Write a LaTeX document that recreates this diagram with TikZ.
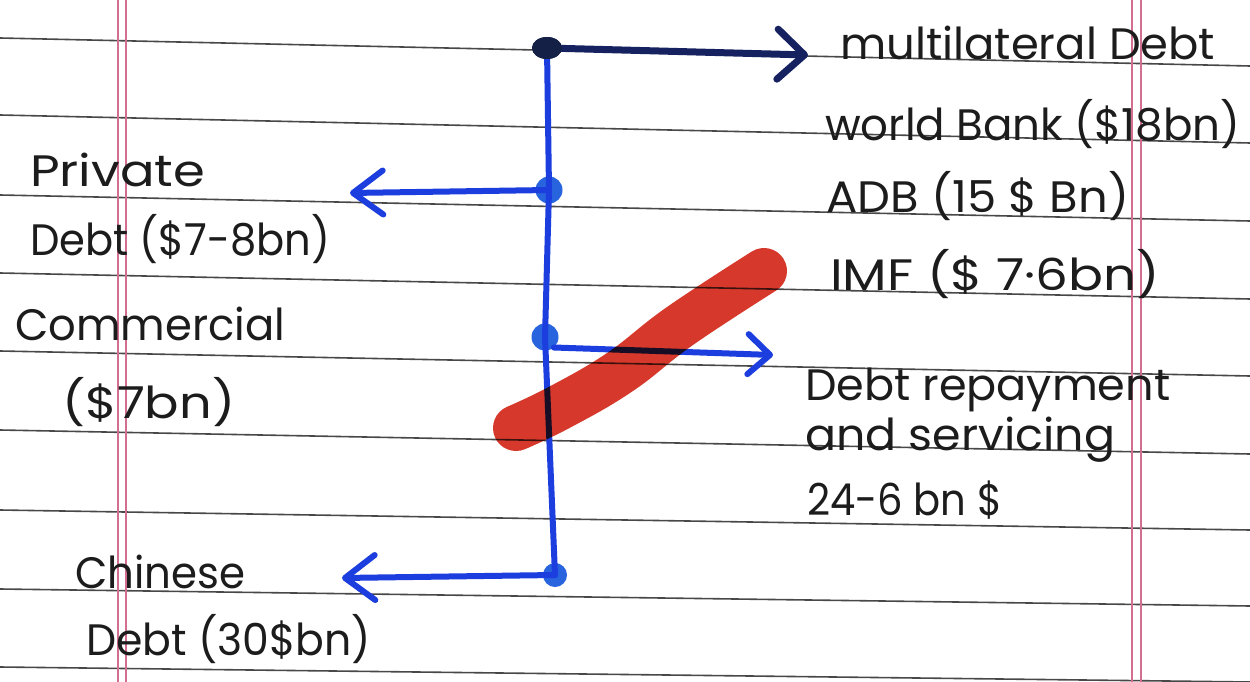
\documentclass[tikz,border=0pt]{standalone}
\usepackage{fontspec}
\setmainfont{Poppins}
\usetikzlibrary{arrows.meta,shapes.geometric}
\definecolor{ink}{RGB}{28,28,28}
\definecolor{bink}{RGB}{28,62,222}
\definecolor{blob}{RGB}{40,100,222}
\definecolor{navy}{RGB}{22,34,96}
\definecolor{dotc}{RGB}{20,32,70}
\definecolor{marker}{RGB}{214,57,43}
\definecolor{rulec}{RGB}{72,72,72}
\definecolor{marginc}{RGB}{210,110,145}
\newcommand{\hwtext}[2]{\resizebox{#1}{\height}{#2}}
\begin{document}
\begin{tikzpicture}[x=1pt,y=-1pt,
  hand/.style={anchor=base west, inner sep=0pt, text=ink, font=\fontsize{44}{48}\selectfont},
  junction/.style={circle, fill=blob, inner sep=0pt, minimum size=27pt},
  topdot/.style={ellipse, fill=dotc, inner sep=0pt, minimum width=30pt, minimum height=22pt},
  trunk/.style={draw=bink, line width=6pt, line cap=round},
  barb/.style n args={2}{-{Straight Barb[length=#1pt,width=#2pt,round]}},
  ruled/.style={draw=rulec, line width=1.6pt},
  marginline/.style={draw=marginc, line width=1.5pt}
]
\fill[white] (0,0) rectangle (1250,682);
\useasboundingbox (0,0) rectangle (1250,682);

% ruled paper
\foreach \a/\b in {38/66, 115/143, 195/221, 273/299, 351/376, 430/454, 510/530, 589/606, 667/682}
  \draw[ruled] (0,\a) -- (1250,\b);
\foreach \x in {118,126,1132,1141}
  \draw[marginline] (\x,0) -- (\x,682);

% junctions
\node[topdot] (top) at (547,48) {};
\node[junction] (pv) at (549,190) {};
\node[junction] (cm) at (545,337) {};
\node[junction, minimum size=24pt] (cn) at (555,575) {};

% free arrow ends
\coordinate (tTop) at (808,55);
\coordinate (tPv) at (350,193);
\coordinate (tCm) at (773,355);
\coordinate (tCn) at (342,578);

% connectors
\draw[trunk] (top.center) -- (pv.center) -- (cm.center) -- (cn.center);
\draw[draw=navy, line width=7pt, barb={27}{50}] (top.center) -- (tTop);
\draw[trunk, barb={30}{44}] (pv.center) -- (tPv);
\draw[trunk, barb={22}{40}] (cm.-50) -- (tCm);
\draw[trunk, barb={30}{45}] (cn.center) -- (tCn);
\node[topdot] at (top) {};

% texts
\node[hand] (ml) at (840,60) {\hwtext{375pt}{multilateral Debt}};
\node[hand] (wb) at (825,140) {\hwtext{415pt}{world Bank (\$18bn)}};
\node[hand] (adb) at (826,212) {\hwtext{303pt}{ADB (15 \$ Bn)}};
\node[hand] (imf) at (830,290) {\hwtext{330pt}{IMF (\$ 7·6bn)}};
\node[hand] (dr1) at (805,400) {\hwtext{365pt}{Debt repayment}};
\node[hand] (dr2) at (805,450) {\hwtext{310pt}{and servicing}};
\node[hand] (dr3) at (807,515) {\hwtext{195pt}{24-6 bn \$}};
\node[hand] (pd1) at (30,186) {\hwtext{175pt}{Private}};
\node[hand] (pd2) at (30,255) {\hwtext{300pt}{Debt (\$7-8bn)}};
\node[hand] (cd1) at (15,340) {\hwtext{270pt}{Commercial}};
\node[hand] (cd2) at (62,418) {\hwtext{173pt}{(\$7bn)}};
\node[hand] (ch1) at (75,588) {\hwtext{170pt}{Chinese}};
\node[hand] (ch2) at (86,655) {\hwtext{285pt}{Debt (30\$bn)}};

% red marker stroke
\draw[marker, line width=46pt, line cap=round, blend mode=multiply]
  plot[smooth, tension=0.7] coordinates {(516,428) (560,407) (620,372) (680,326) (764,271)};
\end{tikzpicture}
\end{document}
